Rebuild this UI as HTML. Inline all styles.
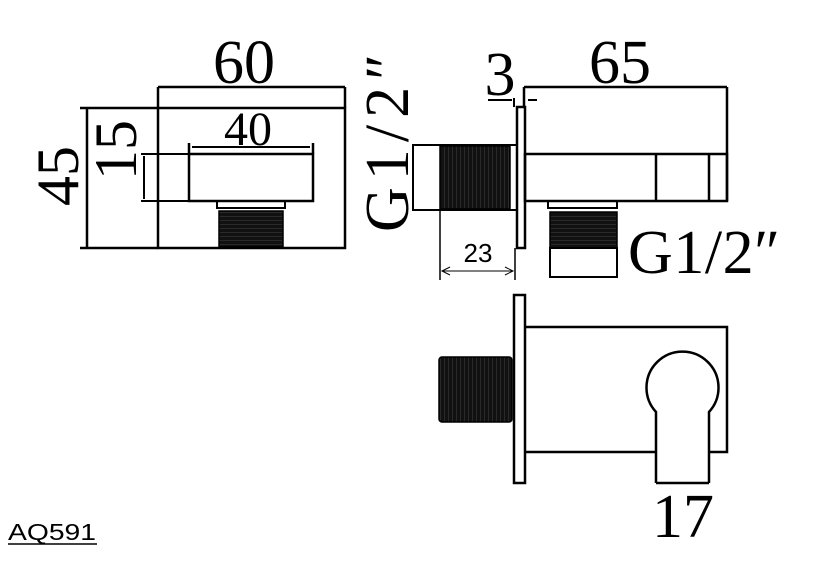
<!DOCTYPE html>
<html><head><meta charset="utf-8"><style>body{margin:0;background:#fff}svg{display:block}</style></head><body>
<svg width="814" height="563" viewBox="0 0 814 563" xmlns="http://www.w3.org/2000/svg">
<defs>
<pattern id="th" width="3" height="4" patternUnits="userSpaceOnUse"><rect width="3" height="4" fill="#111"/><line x1="0" y1="0" x2="3" y2="0" stroke="#666" stroke-width="0.6"/></pattern>
<pattern id="tv" width="4" height="3" patternUnits="userSpaceOnUse"><rect width="4" height="3" fill="#111"/><line x1="0" y1="0" x2="0" y2="3" stroke="#666" stroke-width="0.6"/></pattern>
</defs>
<g fill="none" stroke="#000" stroke-width="2.5">
<line x1="158" y1="87" x2="345" y2="87"/>
<rect x="158" y="108" width="187" height="140"/>
<line x1="158" y1="87" x2="158" y2="108"/>
<line x1="345" y1="87" x2="345" y2="108"/>
<line x1="80" y1="108" x2="158" y2="108"/>
<line x1="80" y1="248" x2="158" y2="248"/>
<line x1="87" y1="108" x2="87" y2="248"/>
<rect x="189" y="154" width="124" height="47"/>
<line x1="189" y1="143" x2="189" y2="154"/>
<line x1="313" y1="143" x2="313" y2="154"/>
<line x1="192" y1="147" x2="310" y2="147" stroke-width="2"/>
<line x1="141" y1="154" x2="189" y2="154" stroke-width="2"/>
<line x1="141" y1="201" x2="189" y2="201" stroke-width="2"/>
<line x1="144" y1="156" x2="144" y2="199" stroke-width="2"/>
<rect x="217" y="201" width="68" height="7" stroke-width="2"/>
<rect x="219" y="211" width="64" height="36" fill="url(#th)" stroke-width="1.5"/>
<rect x="517" y="107" width="8" height="141" stroke-width="2.5"/>
<line x1="524" y1="87" x2="727" y2="87"/>
<line x1="524" y1="87" x2="524" y2="107"/>
<line x1="727" y1="87" x2="727" y2="201"/>
<rect x="525" y="154" width="202" height="47"/>
<line x1="656" y1="154" x2="656" y2="201"/>
<line x1="709" y1="154" x2="709" y2="201"/>
<line x1="488" y1="100" x2="512" y2="100" stroke-width="2"/>
<line x1="528" y1="100" x2="537" y2="100" stroke-width="2"/>
<line x1="514" y1="98" x2="514" y2="107" stroke-width="2"/>
<rect x="413" y="145" width="104" height="65" stroke-width="2"/>
<rect x="440" y="146" width="70" height="63" fill="url(#tv)" stroke-width="1.5"/>
<line x1="440" y1="210" x2="440" y2="280" stroke-width="1.5"/>
<line x1="515" y1="248" x2="515" y2="280" stroke-width="1.5"/>
<line x1="442" y1="271" x2="513" y2="271" stroke-width="1"/>
<path d="M450 267 L442 271 L450 275 M505 267 L513 271 L505 275" stroke-width="1"/>
<rect x="548" y="201" width="69" height="7" stroke-width="2"/>
<rect x="550" y="212" width="67" height="36" fill="url(#th)" stroke-width="1.5"/>
<rect x="550" y="248" width="67" height="29" stroke-width="2"/>
<rect x="514" y="295" width="11" height="188" stroke-width="2.5"/>
<path d="M525 327 H727 V452 H709 M656 452 H525"/>
<rect x="439" y="357" width="73" height="65" rx="3" fill="url(#tv)" stroke-width="1.5"/>
<path d="M656 483 V412 A36 36 0 1 1 709 412 V483"/>
<line x1="656" y1="483" x2="709" y2="483"/>
<line x1="8" y1="544" x2="97" y2="544" stroke-width="1.5"/>
</g>
<g font-family="'Liberation Serif', serif" fill="#000">
<text x="244" y="83" font-size="62" text-anchor="middle">60</text>
<text x="248" y="145" font-size="48" text-anchor="middle">40</text>
<text transform="translate(78,176) rotate(-90)" font-size="60" text-anchor="middle">45</text>
<text transform="translate(136,150) rotate(-90)" font-size="60" text-anchor="middle">15</text>
<text transform="translate(408,232) rotate(-90)" font-size="62" textLength="178" lengthAdjust="spacing">G1/2″</text>
<text x="500" y="95" font-size="62" text-anchor="middle">3</text>
<text x="620" y="83" font-size="62" text-anchor="middle">65</text>
<text x="628" y="273" font-size="62" textLength="152" lengthAdjust="spacing">G1/2″</text>
<text x="683" y="537" font-size="62" text-anchor="middle">17</text>
</g>
<text x="478" y="262" font-family="'Liberation Sans', sans-serif" font-size="26" text-anchor="middle">23</text>
<text x="8" y="540" font-family="'Liberation Sans', sans-serif" font-size="23" textLength="88" lengthAdjust="spacingAndGlyphs">AQ591</text>
</svg>
</body></html>
